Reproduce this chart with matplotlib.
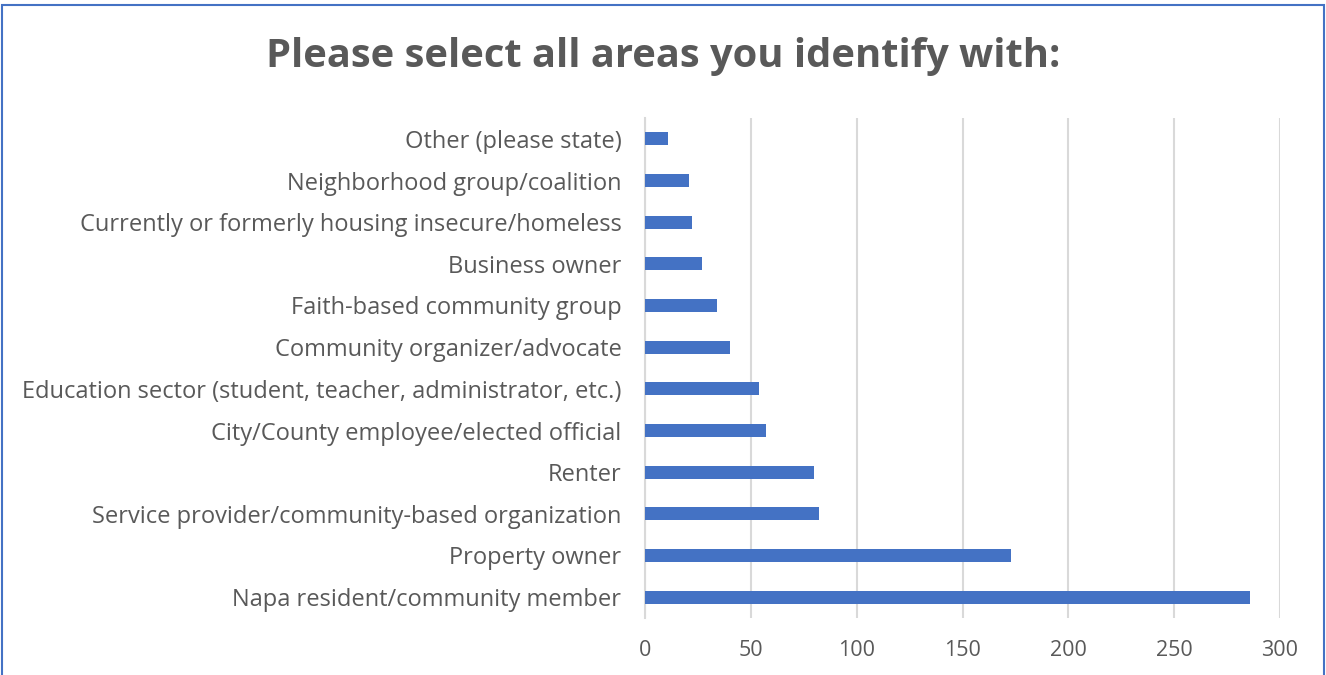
import matplotlib

matplotlib.use("Agg")

import matplotlib.pyplot as plt  # noqa: E402
from matplotlib.patches import Rectangle  # noqa: E402

# Survey answers, top of chart first
categories = [
    "Other (please state)",
    "Neighborhood group/coalition",
    "Currently or formerly housing insecure/homeless",
    "Business owner",
    "Faith-based community group",
    "Community organizer/advocate",
    "Education sector (student, teacher, administrator, etc.)",
    "City/County employee/elected official",
    "Renter",
    "Service provider/community-based organization",
    "Property owner",
    "Napa resident/community member",
]
counts = [11, 21, 22, 27, 34, 40, 54, 57, 80, 82, 173, 286]
x_ticks = [0, 50, 100, 150, 200, 250, 300]

BAR_COLOR = "#4472C4"
TEXT_COLOR = "#595959"
GRID_COLOR = "#D9D9D9"

plt.rcParams["font.family"] = ["Open Sans", "DejaVu Sans"]

fig = plt.figure(figsize=(13.26, 6.75), dpi=100)
ax = fig.add_axes([645 / 1326, 1 - 618 / 675, (1280 - 645) / 1326, (618 - 118) / 675])

y = list(range(len(categories)))
ax.barh(y, counts, height=0.31, color=BAR_COLOR, zorder=3)
ax.set_ylim(len(categories) - 0.5, -0.5)
ax.set_xlim(0, 300)

ax.set_yticks(y)
ax.set_yticklabels(categories, fontsize=17, color=TEXT_COLOR)
ax.set_xticks(x_ticks)
ax.set_xticklabels([str(t) for t in x_ticks], fontsize=15.5, color=TEXT_COLOR)
ax.tick_params(axis="both", length=0)
ax.tick_params(axis="y", pad=17)
ax.tick_params(axis="x", pad=16)

ax.xaxis.grid(True, color=GRID_COLOR, linewidth=1.5, zorder=0)
ax.set_axisbelow(True)
for side in ("top", "right", "bottom"):
    ax.spines[side].set_visible(False)
ax.spines["left"].set_color(GRID_COLOR)
ax.spines["left"].set_linewidth(1.5)

fig.text(0.5, 1 - 56 / 675, "Please select all areas you identify with:",
         ha="center", va="center", fontsize=28.7, fontweight="bold", color=TEXT_COLOR)

# chart frame
fig.patches.append(Rectangle((2 / 1326, -0.05), 1 - 4 / 1326, 1.05 - 5 / 675,
                             transform=fig.transFigure, fill=False,
                             edgecolor=BAR_COLOR, linewidth=1.5))

fig.savefig("out.png", dpi=100)
